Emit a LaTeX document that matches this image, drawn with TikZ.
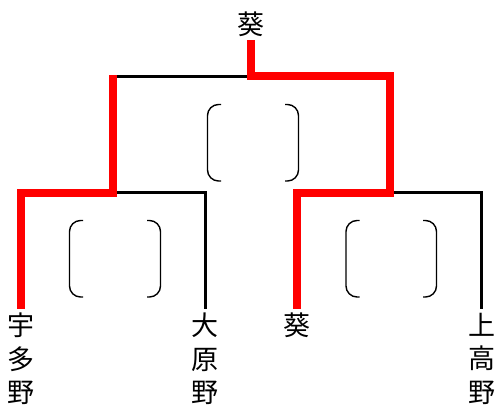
\documentclass[tikz,border=0pt]{standalone}
\usepackage{fontspec}
\newfontfamily\jp{Noto Sans CJK JP}
\begin{document}
\begin{tikzpicture}[x=1pt,y=-1pt,
  lbl/.style={font=\jp\fontsize{27}{33.5}\selectfont, inner sep=0pt, align=center},
  loss/.style={draw=black, line width=3pt, line join=miter},
  win/.style={draw=red, line width=8pt, line join=miter},
  brk/.style={draw=black, line width=1.4pt, rounded corners=11pt}]
\useasboundingbox (0,0) rectangle (499,407);
% labels
\node[lbl] (champ) at (251,24.5) {葵};
\node[lbl, anchor=north] (l1) at (21,313) {宇\\多\\野};
\node[lbl, anchor=north] (l2) at (205,313) {大\\原\\野};
\node[lbl, anchor=north] (l3) at (297,313) {葵};
\node[lbl, anchor=north] (l4) at (482,313) {上\\高\\野};
% junctions
\coordinate (t)   at (251,40);
\coordinate (j0)  at (251,76);
\coordinate (jL)  at (113,76);
\coordinate (jLt) at (113,75);
\coordinate (jR)  at (390,76);
\coordinate (jLb) at (113,192.5);
\coordinate (jRb) at (390,192.5);
\coordinate (bL1) at (21,192.5);
\coordinate (bL2) at (205,192.5);
\coordinate (bR1) at (297,192.5);
\coordinate (bR2) at (481,192.5);
\coordinate (e1) at (21,309);
\coordinate (e2) at (205,309);
\coordinate (e3) at (297,309);
\coordinate (e4) at (481,309);
% losing lines
\draw[loss] (jL) -- (j0);
\draw[loss] (jLb) -- (bL2) -- (e2);
\draw[loss] (jRb) -- (bR2) -- (e4);
% winning lines
\draw[win] (t) -- (j0) -- (jR) -- (jRb) -- (bR1) -- (e3);
\draw[win] (jLt) -- (jLb) -- (bL1) -- (e1);
% score brackets
\draw[brk] (221,104.5) -- (207.5,104.5) -- (207.5,181) -- (221,181);
\draw[brk] (285,104.5) -- (298.5,104.5) -- (298.5,181) -- (285,181);
\draw[brk] (83,220.5) -- (69.5,220.5) -- (69.5,297) -- (83,297);
\draw[brk] (147,220.5) -- (160.5,220.5) -- (160.5,297) -- (147,297);
\draw[brk] (359.5,220.5) -- (346,220.5) -- (346,297) -- (359.5,297);
\draw[brk] (423,220.5) -- (436.5,220.5) -- (436.5,297) -- (423,297);
\end{tikzpicture}
\end{document}
